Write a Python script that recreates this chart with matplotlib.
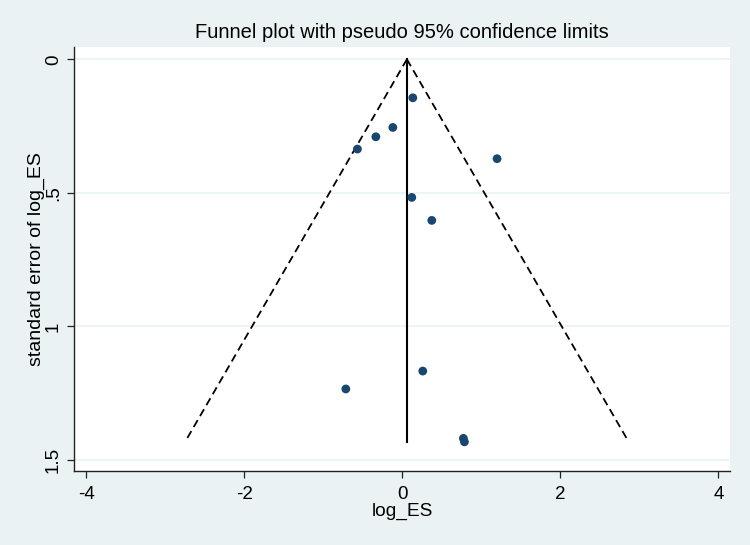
import matplotlib
matplotlib.use("Agg")
import matplotlib.pyplot as plt
import numpy as np

# Data
log_es = [0.133, -0.120, -0.335, -0.568, 1.199, 0.120, 0.373, -0.715, 0.259, 0.773, 0.786]
se_log_es = [0.144, 0.255, 0.290, 0.336, 0.372, 0.517, 0.603, 1.234, 1.167, 1.419, 1.432]
pooled = 0.058
z95 = 1.96
x_ticks = [-4, -2, 0, 2, 4]
x_tick_labels = ["-4", "-2", "0", "2", "4"]
y_ticks = [0, 0.5, 1, 1.5]
y_tick_labels = ["0", ".5", "1", "1.5"]

BG = "#eaf2f3"
MARK = "#1a476f"

plt.rcParams['font.family'] = ['Liberation Sans', 'DejaVu Sans']

fig = plt.figure(figsize=(7.5, 5.45), dpi=100, facecolor=BG)
ax = fig.add_axes([74.3/750, 1-470.7/545, (730-74.3)/750, (470.7-47.3)/545])
ax.set_facecolor("white")

max_se = max(se_log_es)
# grid lines
for yt in y_ticks:
    ax.axhline(yt, color=BG, lw=1.2, zorder=0)

# funnel
se_line = np.array([0, max_se])
ax.plot(pooled - z95*se_line, se_line, color="black", lw=1.3, ls=(0, (4.4, 2.6)), zorder=2)
ax.plot(pooled + z95*se_line, se_line, color="black", lw=1.3, ls=(0, (4.4, 2.6)), zorder=2)
ax.plot([pooled, pooled], [0, max_se], color="black", lw=1.5, zorder=2)

ax.scatter(log_es, se_log_es, s=40, color=MARK, edgecolors="none", zorder=3)

ax.set_xlim(-4.151, 4.147)
ax.set_ylim(1.540, -0.045)
ax.set_xticks(x_ticks)
ax.set_xticklabels(x_tick_labels)
ax.set_yticks(y_ticks)
ax.set_yticklabels(y_tick_labels, rotation=90, va="center")

for s in ["top", "right"]:
    ax.spines[s].set_visible(False)
for s in ["left", "bottom"]:
    ax.spines[s].set_color("#222222")
    ax.spines[s].set_linewidth(1.0)

ax.tick_params(axis="both", direction="out", length=5, width=0.9, color="#222222",
               labelsize=13.5, labelcolor="black")
ax.tick_params(axis="x", pad=6)
ax.tick_params(axis="y", pad=4)

fig.text(402/750, 1-33/545, "Funnel plot with pseudo 95% confidence limits",
         ha="center", va="center", fontsize=14.5, color="black")
fig.text(402/750, 1-511/545, "log_ES", ha="center", va="center", fontsize=13.8, color="black")
fig.text(36.0/750, 1-259/545, "standard error of log_ES", ha="center", va="center",
         rotation=90, fontsize=14, color="black")

fig.savefig("out.png", dpi=100, facecolor=BG)
